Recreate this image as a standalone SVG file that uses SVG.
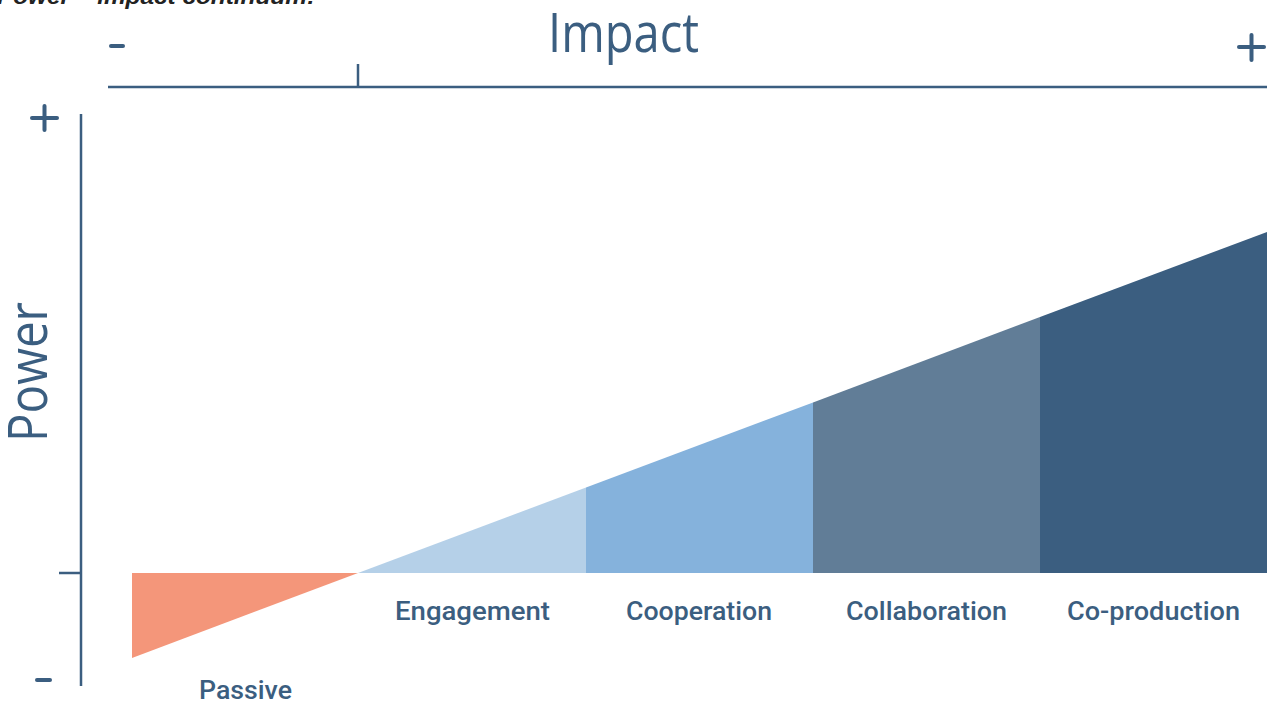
<svg xmlns="http://www.w3.org/2000/svg" width="1267" height="704" viewBox="0 0 1267 704">
  <style>
    .axis { stroke: #3b5e80; stroke-width: 2.5; fill: none; }
    .sign { stroke: #3b5e80; stroke-width: 4; stroke-linecap: round; fill: none; }
    .big { font-family: "Open Sans", "DejaVu Sans", sans-serif; font-weight: 400; font-size: 54px; fill: #3b5e80; }
    .lbl { font-family: Roboto, "Liberation Sans", sans-serif; font-weight: 500; font-size: 26px; fill: #3b5e80; }
    .title { font-family: "Liberation Sans", Arial, sans-serif; font-weight: bold; font-style: italic; font-size: 22px; fill: #222222; }
  </style>
  <rect width="1267" height="704" fill="#ffffff"/>
  <text class="title" x="-3" y="4" textLength="318" lengthAdjust="spacingAndGlyphs">Power – impact continuum:</text>

  <g id="axes">
    <line class="axis" x1="108" y1="87" x2="1267" y2="87"/>
    <line class="axis" x1="358" y1="64" x2="358" y2="87"/>
    <line class="axis" x1="81" y1="114" x2="81" y2="686"/>
    <line class="axis" x1="59" y1="573" x2="81" y2="573"/>
    <line class="sign" x1="111" y1="46" x2="123" y2="46"/>
    <line class="sign" x1="1239" y1="47" x2="1264" y2="47"/>
    <line class="sign" x1="1251.5" y1="35" x2="1251.5" y2="60"/>
    <line class="sign" x1="32" y1="118" x2="57" y2="118"/>
    <line class="sign" x1="44.5" y1="106" x2="44.5" y2="130"/>
    <line class="sign" x1="37" y1="680" x2="50" y2="680"/>
    <text class="big" x="548" y="52" textLength="151" lengthAdjust="spacingAndGlyphs">Impact</text>
    <text class="big" transform="translate(47,442) rotate(-90)" x="0" y="0" textLength="140" lengthAdjust="spacingAndGlyphs">Power</text>
  </g>

  <g id="passive">
    <polygon points="132,573 358,573 132,658" fill="#f4967a"/>
    <text class="lbl" x="199" y="699" textLength="93" lengthAdjust="spacingAndGlyphs">Passive</text>
  </g>
  <g id="engagement">
    <polygon points="358,573 586,487.5 586,573" fill="#b5d0e8"/>
    <text class="lbl" x="395" y="620" textLength="155" lengthAdjust="spacingAndGlyphs">Engagement</text>
  </g>
  <g id="cooperation">
    <polygon points="586,573 586,487.5 813,402.5 813,573" fill="#85b2dc"/>
    <text class="lbl" x="626" y="620" textLength="146" lengthAdjust="spacingAndGlyphs">Cooperation</text>
  </g>
  <g id="collaboration">
    <polygon points="813,573 813,402.5 1040,317 1040,573" fill="#617d97"/>
    <text class="lbl" x="846" y="620" textLength="161" lengthAdjust="spacingAndGlyphs">Collaboration</text>
  </g>
  <g id="co-production">
    <polygon points="1040,573 1040,317 1267,232 1267,573" fill="#3b5e80"/>
    <text class="lbl" x="1067" y="620" textLength="173" lengthAdjust="spacingAndGlyphs">Co-production</text>
  </g>
  <g id="connectors"></g>
</svg>
